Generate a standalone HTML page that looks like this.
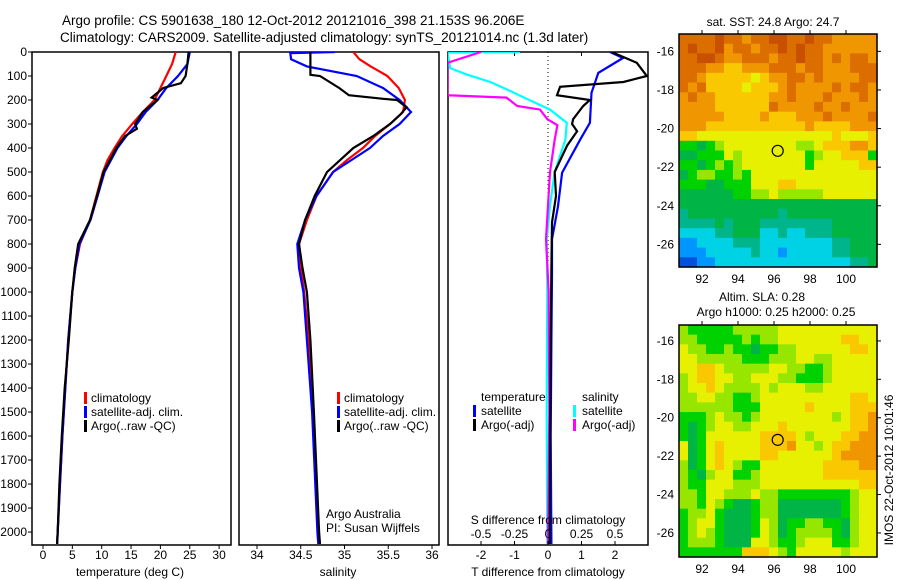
<!DOCTYPE html>
<html><head><meta charset="utf-8">
<style>
html,body{margin:0;padding:0;background:#fff;}
svg{display:block;font-family:"Liberation Sans",sans-serif;}
</style></head>
<body>
<svg id="fig" width="900" height="580" viewBox="0 0 900 580" xmlns="http://www.w3.org/2000/svg">
<text x="62" y="25" font-size="13.5">Argo profile: CS 5901638_180 12-Oct-2012 20121016_398 21.153S 96.206E</text>
<text x="60" y="42" font-size="13.5">Climatology: CARS2009. Satellite-adjusted climatology: synTS_20121014.nc (1.3d later)</text>
</svg>
<script>
// ---------- data ----------
const tempClimDepth = [0,50,100,150,200,250,300,350,400,450,500,600,700,800,900,1000,1200,1400,1600,1800,2000,2050];
const tempClimValue = [22.6,22,21,20,19,17,15.2,13.5,12.2,11,10.2,9.1,8,6.3,5.5,5,4.3,3.8,3.3,2.9,2.5,2.4];
const tempSatDepth = [0,50,100,150,200,250,300,350,400,500,600,700,800,900,1000,1200,1400,1600,1800,2000,2050];
const tempSatValue = [25,24.6,23,21,19.5,17.5,16,14.2,12.7,10.5,9.3,8.1,6.2,5.5,5,4.3,3.8,3.3,2.9,2.5,2.4];
const tempArgoDepth = [0,50,100,130,150,190,200,250,300,320,350,400,500,600,700,800,900,1000,1200,1400,1600,1800,2000,2050];
const tempArgoValue = [24.8,24.6,24.3,23.5,20.5,18.5,19.5,17,15.7,16,14,12.5,10.3,9.2,8,6,5.4,5,4.4,3.7,3.2,2.8,2.5,2.4];

const salClimDepth = [0,30,60,100,150,200,250,300,350,400,450,500,600,700,800,900,1000,1200,1500,2000,2050];
const salClimValue = [35.10,35.17,35.30,35.49,35.62,35.69,35.67,35.52,35.35,35.21,35.03,34.87,34.68,34.57,34.48,34.50,34.54,34.59,34.64,34.70,34.71];
const salSatDepth = [0,5,30,60,100,150,200,250,300,350,400,500,600,700,800,900,1000,1200,1500,2000,2050];
const salSatValue = [34.89,34.38,34.39,34.57,35.14,35.44,35.63,35.76,35.63,35.44,35.29,34.87,34.68,34.55,34.46,34.48,34.53,34.57,34.63,34.69,34.70];
const salArgoDepth = [0,95,100,150,180,195,200,230,260,300,350,400,500,600,700,800,900,1000,1200,1500,2000,2050];
const salArgoValue = [34.61,34.61,34.72,34.94,35.05,35.44,35.60,35.71,35.64,35.52,35.33,35.10,34.80,34.66,34.55,34.48,34.52,34.57,34.61,34.65,34.71,34.72];

const dtSatDepth = [0,25,87,170,295,365,503,643,780,920,1200,1600,2050];
const dtSatValue = [1.85,2.24,1.5,1.3,1.25,0.96,0.42,0.3,0.12,0.12,0.1,0.08,0.1];
const dtArgoDepth = [0,45,100,125,145,180,200,225,280,300,330,390,500,600,710,900,1200,1600,2050];
const dtArgoValue = [1.9,2.65,2.95,2.25,0.36,0.27,1.25,1.05,0.75,0.72,0.87,0.57,0.2,0.24,0.12,0.1,0.08,0.06,0.05];
const dsSatDepth = [0,2,67,95,125,155,195,240,295,365,500,640,780,1000,1500,2050];
const dsSatValue = [-0.21,-0.75,-0.73,-0.6,-0.43,-0.31,-0.16,0.015,0.14,0.13,0.05,0.015,-0.01,-0.005,-0.01,-0.005];
const dsArgoDepth = [0,45,180,190,225,240,280,305,365,500,780,1000,1500,2050];
const dsArgoValue = [-0.5,-0.75,-0.75,-0.31,-0.23,-0.06,-0.005,0.07,0.05,0.015,-0.015,0.005,0.01,0.0];

const depthTicks = [0,100,200,300,400,500,600,700,800,900,1000,1100,1200,1300,1400,1500,1600,1700,1800,1900,2000];
const tempTicks = [0,5,10,15,20,25,30];
const salTicks = [34,34.5,35,35.5,36];
const salTickLabels = ["34","34.5","35","35.5","36"];
const dtTicks = [-2,-1,0,1,2];
const dsTicks = [-0.5,-0.25,0,0.25,0.5];
const dsTickLabels = ["-0.5","-0.25","0","0.25","0.5"];

const lonTicks = [92,94,96,98,100];
const latTicks = [-16,-18,-20,-22,-24,-26];
const profileLon = 96.206;
const profileLat = -21.153;

const sstGrid = [
"aaaabaa9aabbaabaa99999","abaab9aa9aababaa999999","aabba99aaa9aabaa9a9aa9","aaa9988999aaa9aa999aaa",
"aa9888887899aa9a9999aa","a9a888878889a9999a9aa9","9a9988888899a999a999a9","9999888888a9999a99a999",
"9999988889888999a9999a","9998888888888898888999","8877777777777777787778","5545677777777667888998",
"4455576777777756778885","5545656777777757777788","4566556577777777777777","5554455577788777777777",
"4444445566766666777777","4444444444444444444444","3444444444434444444444","3333434443333333344444",
"2222334442232233344444","1122223332222222233444","1112222232212222233444","0011222222222222222334"];
const slaGrid = [
"6555556666677777777777","6655555656677777778877","7665565545566777777887","7766666555666776677777",
"7788766666776655677777","6788776677766555677777","6778766667677766777777","6677665567777777777887",
"6666665557777787777888","5556766567777777767889","5456776677787777777889","5457777778888767778899",
"7457877778889776788999","7457877778877777789999","6457876557777777888899","6546775567777777888888",
"6557776667777777777788","6657766676655555555677","6657654456644444445677","5667544456644444445677",
"5677544457645566554677","5676544457645666654677","5666544477655677755677","5555555888765777776777"];
const colorMap = {"0":"#0050dc","1":"#0096ff","2":"#00d2e6","3":"#00b48c","4":"#00b446","5":"#00d200","6":"#96e600","7":"#e6f000","8":"#fac800","9":"#f09600","a":"#dc6e00","b":"#c85000"};

// ---------- helpers ----------
const NS = "http://www.w3.org/2000/svg";
const svg = document.getElementById("fig");
function mk(tag, attrs, parent){const e=document.createElementNS(NS,tag);for(const k in attrs)e.setAttribute(k,attrs[k]);(parent||svg).appendChild(e);return e;}
function txt(x,y,s,anchor,size,parent){const t=mk("text",{x:x,y:y,"font-size":size||12,"text-anchor":anchor||"start"},parent);t.textContent=s;return t;}

const TOP=52, BOT=545, DMAX=2054;
const yD = d => TOP + (BOT-TOP)*d/DMAX;
const xT = t => 43 + 5.87*t;
const xS = s => 257 + 87.5*(s-34);
const xDT = t => 548 + 33.5*t;
const xDS = s => 548 + 134*s;

const defs = mk("defs",{});
[["c1",32,231],["c2",239,439],["c3",448,648]].forEach(c=>{
  const cp=mk("clipPath",{id:c[0]},defs);
  mk("rect",{x:c[1],y:TOP,width:c[2]-c[1],height:BOT-TOP},cp);
});

function panelBox(x0,x1,name){
  const r=mk("rect",{x:x0,y:TOP,width:x1-x0,height:BOT-TOP,fill:"none",stroke:"#000","stroke-width":1.5});
  
  
}
function series(depths, vals, xf, color, clip, name){
  const pts = depths.map((d,i)=>xf(vals[i]).toFixed(1)+","+yD(d).toFixed(1)).join(" ");
  const p=mk("polyline",{points:pts,fill:"none",stroke:color,"stroke-width":2.2,"clip-path":"url(#"+clip+")"});
  
  
}

// ---------- panel 1 ----------
panelBox(32,231,"temperature-panel");
const yAxis = mk("g",{});


depthTicks.forEach(d=>{
  mk("line",{x1:28,x2:32,y1:yD(d),y2:yD(d),stroke:"#000"},yAxis);
  txt(27,yD(d)+4,String(d),"end",12,yAxis);
});
const tAxis = mk("g",{});


tempTicks.forEach(t=>{
  mk("line",{x1:xT(t),x2:xT(t),y1:BOT,y2:BOT+4,stroke:"#000"},tAxis);
  txt(xT(t),BOT+14,String(t),"middle",12,tAxis);
});
const tTitle=txt(130,576,"temperature (deg C)","middle",12);


series(tempClimDepth,tempClimValue,xT,"#f00","c1","temp-climatology-line");
series(tempSatDepth,tempSatValue,xT,"#00f","c1","temp-satellite-line");
series(tempArgoDepth,tempArgoValue,xT,"#000","c1","temp-argo-line");

function legend(x,y,items,name){
  const g=mk("g",{});
  
  
  items.forEach((it,i)=>{
    mk("rect",{x:x,y:y+i*14-10,width:3,height:12,fill:it[1]},g);
    txt(x+7,y+i*14,it[0],"start",12,g);
  });
}
legend(84,402,[["climatology","#f00"],["satellite-adj. clim.","#00f"],["Argo(..raw -QC)","#000"]],"temperature-legend");

// ---------- panel 2 ----------
panelBox(239,439,"salinity-panel");
const sAxis = mk("g",{});


salTicks.forEach((s,i)=>{
  mk("line",{x1:xS(s),x2:xS(s),y1:BOT,y2:BOT+4,stroke:"#000"},sAxis);
  txt(xS(s),BOT+14,salTickLabels[i],"middle",12,sAxis);
});
const sTitle=txt(338,576,"salinity","middle",12);


series(salClimDepth,salClimValue,xS,"#f00","c2","sal-climatology-line");
series(salSatDepth,salSatValue,xS,"#00f","c2","sal-satellite-line");
series(salArgoDepth,salArgoValue,xS,"#000","c2","sal-argo-line");
legend(337,402,[["climatology","#f00"],["satellite-adj. clim.","#00f"],["Argo(..raw -QC)","#000"]],"salinity-legend");
const cred=mk("g",{});


txt(326,518,"Argo Australia","start",12,cred);
txt(326,532,"PI: Susan Wijffels","start",12,cred);

// ---------- panel 3 ----------
panelBox(448,648,"difference-panel");
const zl=mk("line",{x1:548,x2:548,y1:TOP,y2:270,stroke:"#000","stroke-dasharray":"1,3"});


[-1,1].forEach(t=>mk("line",{x1:xDT(t),x2:xDT(t),y1:TOP,y2:TOP+4,stroke:"#000"}));
series(dsSatDepth,dsSatValue,xDS,"#0ff","c3","sal-diff-satellite-line");
series(dsArgoDepth,dsArgoValue,xDS,"#f0f","c3","sal-diff-argo-line");
series(dtSatDepth,dtSatValue,xDT,"#00f","c3","temp-diff-satellite-line");
series(dtArgoDepth,dtArgoValue,xDT,"#000","c3","temp-diff-argo-line");
const dtAxis=mk("g",{});


dtTicks.forEach(t=>{
  mk("line",{x1:xDT(t),x2:xDT(t),y1:BOT,y2:BOT-4,stroke:"#000"},dtAxis);
  txt(xDT(t),BOT+14,String(t),"middle",12,dtAxis);
});
const dsAxis=mk("g",{});


dsTicks.forEach((s,i)=>txt(xDS(s),538,dsTickLabels[i],"middle",12,dsAxis));
const dsT=txt(548,524,"S difference from climatology","middle",12);


const dtT=txt(548,576,"T difference from climatology","middle",12);


const lg3=mk("g",{});


txt(481,401,"temperature","start",12,lg3);
txt(582,401,"salinity","start",12,lg3);
[["satellite","#00f","#0ff"],["Argo(-adj)","#000","#f0f"]].forEach((it,i)=>{
  const y=415+i*14;
  mk("rect",{x:473,y:y-10,width:3,height:12,fill:it[1]},lg3);
  txt(481,y,it[0],"start",12,lg3);
  mk("rect",{x:573,y:y-10,width:3,height:12,fill:it[2]},lg3);
  txt(582,y,it[0],"start",12,lg3);
});

// ---------- maps ----------
function drawMap(grid, top, bottom, latTop, latPerPx, name){
  const L=679,R=877, pxPerLon=18;
  const xLon = lo => 702 + pxPerLon*(lo-92);
  const yLat = la => top + (latTop-la)*latPerPx;
  const g=mk("g",{});
  
  
  const rows=grid.length, cols=grid[0].length;
  const cw=(R-L)/cols, ch=(bottom-top)/rows;
  for(let r=0;r<rows;r++)for(let c=0;c<cols;c++){
    const cell=mk("rect",{x:(L+c*cw).toFixed(2),y:(top+r*ch).toFixed(2),width:(cw+0.6).toFixed(2),height:(ch+0.6).toFixed(2),fill:colorMap[grid[r][c]]},g);
    
    
  }
  mk("rect",{x:L,y:top,width:R-L,height:bottom-top,fill:"none",stroke:"#000","stroke-width":1.5},g);
  lonTicks.forEach(lo=>{
    mk("line",{x1:xLon(lo),x2:xLon(lo),y1:top,y2:top-4,stroke:"#000"},g);
    txt(xLon(lo),bottom+16,String(lo),"middle",12,g);
  });
  latTicks.forEach(la=>{
    mk("line",{x1:R,x2:R+4,y1:yLat(la),y2:yLat(la),stroke:"#000"},g);
    txt(L-5,yLat(la)+4,String(la),"end",12,g);
  });
  const m=mk("circle",{cx:xLon(profileLon),cy:yLat(profileLat),r:5.5,fill:"none",stroke:"#000","stroke-width":1.2},g);
  
  
  return g;
}
drawMap(sstGrid,34,267,-15.1,19.3,"sst-map");
drawMap(slaGrid,325,557,-15.17,19.2,"sla-map");
const st=txt(773,26,"sat. SST: 24.8 Argo: 24.7","middle",12);


const a1=txt(762,301,"Altim. SLA: 0.28","middle",12);


const a2=txt(776,316,"Argo h1000: 0.25 h2000: 0.25","middle",12);


const im=txt(0,0,"IMOS 22-Oct-2012 10:01:46","middle",12);
im.setAttribute("transform","translate(893,470) rotate(-90)");


</script>
</body></html>
